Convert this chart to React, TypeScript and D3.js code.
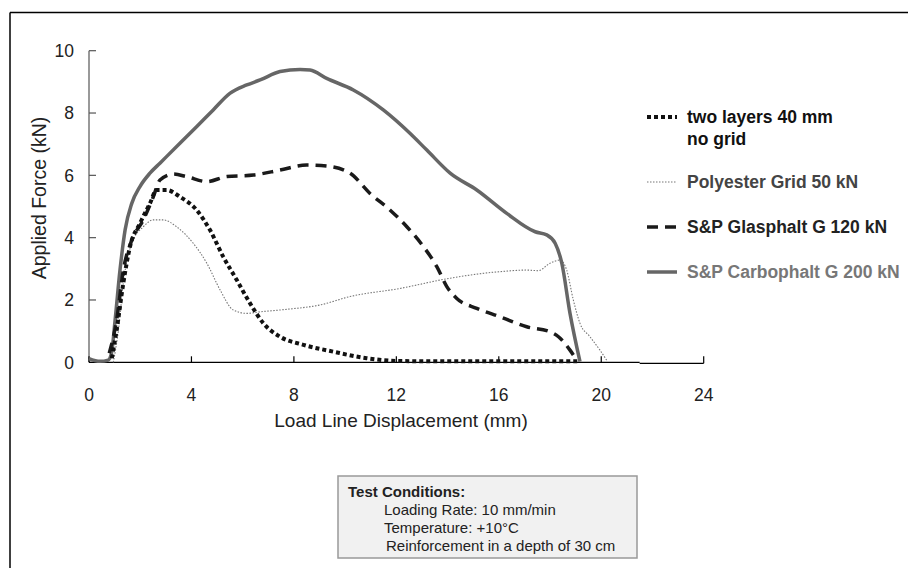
import React from "react";
import * as d3 from "d3";

const xTicks = [0, 4, 8, 12, 16, 20, 24];
const yTicks = [0, 2, 4, 6, 8, 10];

const noGrid: [number, number][] = [
  [0.89, 0.13], [1.08, 1.04], [1.34, 2.54], [1.6, 3.71], [1.99, 4.46], [2.38, 5.1], [2.64, 5.53],
  [3.03, 5.53], [3.55, 5.31], [4.2, 4.89], [4.72, 4.25], [5.24, 3.39], [5.77, 2.64], [6.29, 1.89],
  [6.81, 1.25], [7.46, 0.82], [8.37, 0.56], [9.54, 0.34], [10.84, 0.13], [12.14, 0.04], [14, 0.03],
  [16, 0.03], [19.17, 0.03],
];

const polyester: [number, number][] = [
  [0.95, 0], [1.15, 1.04], [1.34, 2.54], [1.67, 3.82], [2.12, 4.35], [2.51, 4.57], [2.9, 4.57],
  [3.42, 4.35], [4.07, 3.82], [4.6, 3.18], [5.12, 2.32], [5.63, 1.68], [6.16, 1.57], [6.68, 1.62],
  [7.72, 1.7], [9.02, 1.84], [10.19, 2.11], [12.14, 2.37], [14.1, 2.7], [16.05, 2.91], [17.09, 2.96],
  [17.54, 2.94], [18.0, 3.18], [18.39, 3.28], [18.65, 2.96], [18.91, 2.0], [19.17, 1.25], [19.56, 0.82],
  [19.95, 0.39], [20.21, 0.07],
];

const glasphalt: [number, number][] = [
  [0.79, 0.29], [1.08, 1.36], [1.34, 2.96], [1.67, 3.92], [2.12, 4.57], [2.51, 5.31], [2.77, 5.85],
  [3.29, 6.04], [3.81, 5.96], [4.6, 5.8], [5.38, 5.96], [6.42, 6.01], [7.46, 6.17], [8.5, 6.33],
  [9.28, 6.3], [10.19, 6.07], [10.97, 5.42], [11.75, 4.89], [12.41, 4.35], [13.06, 3.71], [13.58, 3.07],
  [13.97, 2.43], [14.36, 2.05], [15.14, 1.73], [16.05, 1.46], [17.09, 1.14], [18.0, 0.98], [18.33, 0.82],
  [18.78, 0.39], [19.04, 0.07],
];

const carbophalt: [number, number][] = [
  [0, 0.12], [0.43, 0.03], [0.75, 0.07], [0.88, 0.3], [1.02, 1.36], [1.21, 2.96], [1.41, 4.25],
  [1.67, 5.1], [1.99, 5.64], [2.38, 6.07], [2.77, 6.39], [3.55, 7.03], [4.2, 7.56], [4.85, 8.1],
  [5.5, 8.63], [6.16, 8.9], [6.68, 9.06], [7.46, 9.33], [8.24, 9.4], [8.63, 9.38], [9.28, 9.11],
  [10.32, 8.74], [11.49, 8.1], [12.53, 7.35], [13.19, 6.81], [14.1, 6.07], [15.14, 5.53], [16.31, 4.78],
  [17.42, 4.19], [17.87, 4.09], [18.2, 3.82], [18.46, 3.18], [18.78, 1.57], [19.17, 0.02],
];

const seriesNames = ["two layers 40 mm|no grid", "Polyester Grid 50 kN", "S&P Glasphalt G 120 kN", "S&P Carbophalt G 200 kN"];
const conditionLines = ["Test Conditions:", "Loading Rate: 10 mm/min", "Temperature: +10°C", "Reinforcement in a depth of 30 cm"];

const FONT = "'Liberation Sans', Arial, sans-serif";

export default function App() {
  const x = d3.scaleLinear().domain([0, 24]).range([89, 703.7]);
  const y = d3.scaleLinear().domain([0, 10]).range([362.3, 50.7]);
  const line = d3
    .line<[number, number]>()
    .x((d) => x(d[0]))
    .y((d) => y(d[1]))
    .curve(d3.curveMonotoneX);

  const styles = [
    { data: noGrid, stroke: "#111", width: 4, dash: "4,3", text: "#111" },
    { data: polyester, stroke: "#777", width: 1.1, dash: "1.5,1.5", text: "#444" },
    { data: glasphalt, stroke: "#1a1a1a", width: 3.5, dash: "11,7", text: "#222" },
    { data: carbophalt, stroke: "#666", width: 3.5, dash: undefined as string | undefined, text: "#777" },
  ];
  const drawOrder = [1, 3, 2, 0];
  const legendBase = [123, 188, 233, 278];

  return (
    <svg
      width={908}
      height={568}
      style={{ position: "absolute", left: 0, top: 0, background: "#fff" }}
      fontFamily={FONT}
    >
      {/* frame */}
      <line x1={10} y1={12.5} x2={908} y2={12.5} stroke="#000" strokeWidth={1.5} />
      <line x1={10} y1={12.5} x2={10} y2={568} stroke="#000" strokeWidth={1.5} />

      {/* axes */}
      <line x1={x(0)} y1={y(10)} x2={x(0)} y2={y(0)} stroke="#555" strokeWidth={1.2} />
      {yTicks.map((t) => (
        <g key={"y" + t}>
          <line x1={x(0)} x2={x(0) + 7} y1={y(t)} y2={y(t)} stroke="#555" strokeWidth={1.2} />
          <text x={74} y={y(t)} dy="0.36em" textAnchor="end" fontSize={17.5} fill="#222">
            {t}
          </text>
        </g>
      ))}
      <line x1={x(0)} y1={y(0)} x2={x(21.5)} y2={y(0)} stroke="#000" strokeWidth={1.2} />
      <line x1={x(21.5)} y1={y(0) + 1} x2={x(24)} y2={y(0) + 1} stroke="#000" strokeWidth={1.2} />
      {xTicks.map((t) => (
        <g key={"x" + t}>
          <line x1={x(t)} x2={x(t)} y1={y(0) - 6} y2={y(0) + (t === 24 ? 1 : 0)} stroke="#000" strokeWidth={1.2} />
          <text x={x(t)} y={400.5} textAnchor="middle" fontSize={17.5} fill="#222">
            {t}
          </text>
        </g>
      ))}
      <text x={401} y={427} textAnchor="middle" fontSize={19} fill="#222">
        Load Line Displacement (mm)
      </text>
      <text
        transform={`translate(45.5, 198) rotate(-90)`}
        textAnchor="middle"
        fontSize={19.5}
        fill="#222"
      >
        Applied Force  (kN)
      </text>

      {/* series */}
      {drawOrder.map((i) => {
        const s = styles[i];
        return (
          <path
            key={"s" + i}
            d={line(s.data) || ""}
            fill="none"
            stroke={s.stroke}
            strokeWidth={s.width}
            strokeDasharray={s.dash}
            strokeLinejoin="round"
          />
        );
      })}

      {/* legend */}
      {seriesNames.map((name, i) => {
        const s = styles[i];
        const base = legendBase[i];
        const parts = name.split("|");
        return (
          <g key={"l" + i}>
            <line
              x1={647}
              x2={677}
              y1={base - 6}
              y2={base - 6}
              stroke={s.stroke}
              strokeWidth={s.width}
              strokeDasharray={s.dash}
            />
            {parts.map((p, j) => (
              <text key={j} x={687} y={base + j * 22} fontSize={17.5} fontWeight="bold" fill={s.text}>
                {p}
              </text>
            ))}
          </g>
        );
      })}

      {/* conditions box */}
      <rect x={338} y={476} width={299} height={82} fill="#f1f1f1" stroke="#999" strokeWidth={1.5} />
      {conditionLines.map((t, i) => (
        <text
          key={"c" + i}
          x={i === 0 ? 348 : i === 3 ? 386 : 384}
          y={496.5 + i * 18.1}
          fontSize={15}
          fontWeight={i === 0 ? "bold" : "normal"}
          fill="#222"
        >
          {t}
        </text>
      ))}
    </svg>
  );
}
